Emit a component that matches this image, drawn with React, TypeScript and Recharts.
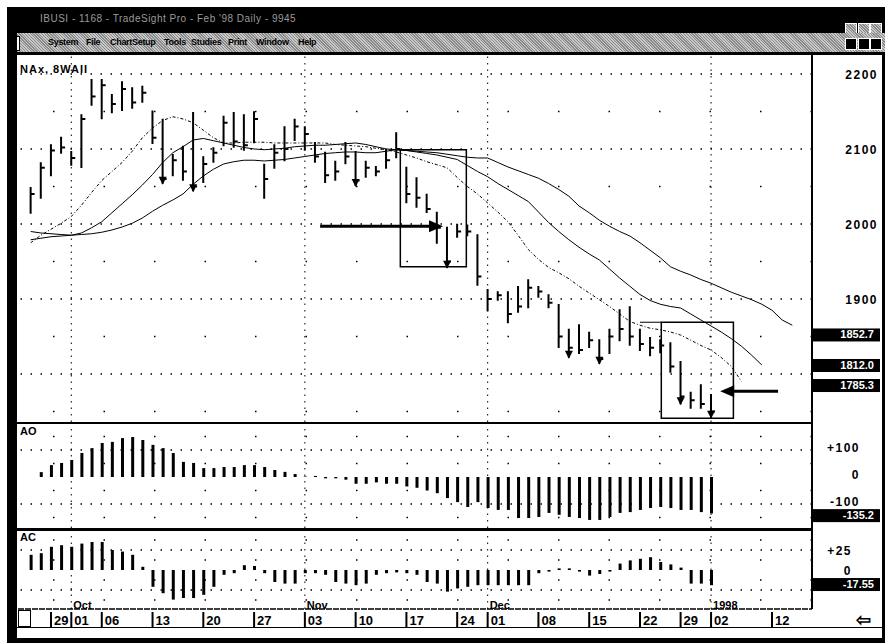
import React from 'react'
import {
  Bar,
  ComposedChart,
  Line,
  ReferenceArea,
  ReferenceDot,
  ReferenceLine,
  XAxis,
  YAxis,
} from 'recharts'

// trading days, Sep 25 1997 .. Jan 15 1998 (index = position on the x axis)
const dates = [
  '09-25', '09-26', '09-29', '09-30', '10-01', '10-02', '10-03', '10-06', '10-07', '10-08',
  '10-09', '10-10', '10-13', '10-14', '10-15', '10-16', '10-17', '10-20', '10-21', '10-22',
  '10-23', '10-24', '10-27', '10-28', '10-29', '10-30', '10-31', '11-03', '11-04', '11-05',
  '11-06', '11-07', '11-10', '11-11', '11-12', '11-13', '11-14', '11-17', '11-18', '11-19',
  '11-20', '11-21', '11-24', '11-25', '11-26', '12-01', '12-02', '12-03', '12-04', '12-05',
  '12-08', '12-09', '12-10', '12-11', '12-12', '12-15', '12-16', '12-17', '12-18', '12-19',
  '12-22', '12-23', '12-24', '12-26', '12-29', '12-30', '12-31', '01-02', '01-05', '01-06',
  '01-07', '01-08', '01-09', '01-12', '01-13', '01-14', '01-15',
]

const highs = [
  2048, 2081, 2105, 2115, 2096, 2145, 2192, 2192, 2172, 2189,
  2181, 2183, 2150, 2139, 2092, 2103, 2148, 2089, 2101, 2143,
  2148, 2145, 2149, 2079, 2105, 2129, 2139, 2129, 2108, 2095,
  2083, 2108, 2096, 2083, 2076, 2099, 2121, 2075, 2061, 2039,
  2015, 1995, 1999, 1998, 1985, 1912, 1909, 1909, 1916, 1925,
  1916, 1905, 1892, 1859, 1865, 1855, 1845, 1859, 1885, 1889,
  1859, 1848, 1845, 1841, 1816, 1775, 1785, 1772,
]
const lows = [
  2015, 2035, 2065, 2095, 2079, 2076, 2159, 2141, 2149, 2152,
  2155, 2163, 2108, 2055, 2065, 2059, 2045, 2056, 2083, 2105,
  2103, 2099, 2109, 2035, 2075, 2085, 2112, 2099, 2083, 2056,
  2059, 2081, 2052, 2063, 2065, 2075, 2089, 2029, 2023, 2016,
  1975, 1943, 1983, 1985, 1919, 1885, 1899, 1869, 1883, 1889,
  1903, 1889, 1836, 1823, 1828, 1836, 1815, 1828, 1845, 1839,
  1832, 1825, 1829, 1803, 1761, 1755, 1755, 1743,
]
const closes = [
  2040, 2075, 2098, 2102, 2088, 2140, 2170, 2185, 2160, 2180,
  2162, 2175, 2115, 2060, 2085, 2070, 2050, 2080, 2095, 2135,
  2110, 2105, 2140, 2060, 2095, 2100, 2130, 2120, 2090, 2065,
  2070, 2090, 2058, 2075, 2070, 2085, 2100, 2040, 2035, 2020,
  1995, 1950, 1990, 1990, 1930, 1900, 1905, 1880, 1890, 1915,
  1910, 1895, 1850, 1835, 1832, 1845, 1820, 1850, 1860, 1850,
  1840, 1835, 1838, 1810, 1770, 1765, 1760, 1750,
]

// alligator lines (shifted forward past the last bar)
const lips = [
  1975, 1985, 1993, 2001, 2010, 2025, 2042, 2058, 2070, 2082,
  2097, 2115, 2128, 2138, 2143, 2140, 2135, 2125, 2115, 2108,
  2108, 2109, 2109, 2109, 2108, 2108, 2108, 2108, 2108, 2108,
  2106, 2105, 2104, 2103, 2101, 2099, 2096, 2092, 2088, 2083,
  2079, 2075, 2062, 2050, 2040, 2028, 2016, 2003, 1985, 1966,
  1953, 1942, 1935, 1927, 1917, 1908, 1899, 1890, 1880, 1870,
  1865, 1861, 1859, 1856, 1852, 1845, 1838, 1832, 1822, 1810,
  1790,
]
const teeth = [
  1990, 1988, 1987, 1986, 1985, 1988, 1995, 2003, 2015, 2027,
  2039, 2052, 2066, 2082, 2095, 2103, 2112, 2114, 2111, 2108,
  2105, 2102, 2100, 2099, 2100, 2101, 2103, 2104, 2105, 2105,
  2106, 2107, 2108, 2106, 2103, 2100, 2099, 2098, 2096, 2094,
  2092, 2089, 2086, 2078, 2070, 2063, 2054, 2046, 2038, 2030,
  2016, 2002, 1990, 1979, 1969, 1960, 1952, 1940, 1928, 1917,
  1906, 1898, 1893, 1890, 1888, 1880, 1872, 1864, 1856, 1847,
  1837, 1825, 1812,
]
const jaw = [
  1979, 1981, 1983, 1984, 1985, 1986, 1987, 1989, 1992, 1996,
  2001, 2008, 2017, 2025, 2032, 2040, 2053, 2064, 2073, 2080,
  2083, 2085, 2085, 2084, 2085, 2086, 2088, 2090, 2092, 2094,
  2095, 2096, 2096, 2095, 2095, 2097, 2099, 2098, 2097, 2096,
  2095, 2093, 2091, 2089, 2088, 2088, 2082, 2076, 2071, 2066,
  2061, 2054, 2046, 2037, 2024, 2015, 2005, 1997, 1990, 1984,
  1975, 1965, 1955, 1943, 1937, 1932, 1926, 1921, 1915, 1909,
  1904, 1899, 1893, 1885, 1872, 1865,
]

const ao = [
  null, 18, 44, 52, 63, 89, 107, 126, 130, 144,
  148, 137, 119, 107, 89, 56, 52, 33, 33, 37,
  37, 44, 44, 37, 26, 19, 11, 2, 4, -5,
  -5, -10, -25, -25, -20, -25, -25, -35, -40, -50,
  -60, -78, -93, -111, -93, -115, -122, -122, -152, -152,
  -148, -133, -140, -148, -152, -159, -159, -148, -133, -130,
  -122, -115, -111, -115, -122, -122, -130, -135,
]
const ac = [
  19, 21, 29, 31, 29, 33, 35, 35, 25, 23,
  19, 4, -21, -29, -37, -35, -35, -31, -21, -6,
  -4, 6, 5, -4, -15, -17, -17, -4, -4, -6,
  -15, -17, -19, -17, -6, -4, -3, -4, -6, -15,
  -17, -27, -23, -21, -19, -19, -19, -19, -19, -19,
  -4, -2, 2, 2, -2, -7, -5, -2, 8, 12,
  14, 16, 10, 7, 3, -17, -17, -19,
]

const downSignals = ['10-14', '10-17', '11-10', '11-21', '12-11', '12-16', '12-29', '01-02']
const tickDates = [
  '09-29', '10-01', '10-06', '10-13', '10-20', '10-27', '11-03', '11-10', '11-17',
  '11-24', '12-01', '12-08', '12-15', '12-22', '12-29', '01-02', '01-12',
]
const monthStarts = ['10-01', '11-03', '12-01', '01-02']
const monthNames = ['Oct', 'Nov', 'Dec', '1998']
const priceTicks = [2200, 2100, 2000, 1900]
const priceGrid = [1750, 1800, 1850, 1900, 1950, 2000, 2050, 2100, 2150, 2200]
const lastValues = [1852.7, 1812.0, 1785.3]
const aoLast = -135.2
const acLast = -17.55

// hand-drawn annotations, in data units (x index, price)
const boxes = [
  { x1: 36.4, x2: 42.9, y1: 2099, y2: 1943 },
  { x1: 62.1, x2: 69.2, y1: 1869, y2: 1741 },
]
const arrowRight = { from: 28.5, to: 40.6, price: 1997 }
const arrowLeft = { from: 73.6, to: 67.9, price: 1777 }

const X_DOMAIN: [number, number] = [-1.25, 76.94]
const FONT = '"Liberation Sans", Arial, sans-serif'

const rows = dates.map((d, k) => ({
  k,
  date: d,
  range: highs[k] != null ? [lows[k], highs[k]] : null,
  high: highs[k] ?? null,
  low: lows[k] ?? null,
  close: closes[k] ?? null,
  lips: lips[k] ?? null,
  teeth: teeth[k] ?? null,
  jaw: jaw[k] ?? null,
  ao: ao[k] ?? null,
  ac: ac[k] ?? null,
}))

const kOf = (d: string) => dates.indexOf(d)

function PriceBar(props: any) {
  const { x, y, width, height, payload } = props
  if (payload?.high == null) return null
  const cx = x + width / 2
  const span = payload.high - payload.low || 1
  const yc = y + ((payload.high - payload.close) / span) * height
  return (
    <g>
      <line x1={cx} x2={cx} y1={y - 1} y2={y + height + 1} stroke="#000" strokeWidth={2} />
      <line x1={cx} x2={cx + 4} y1={yc} y2={yc} stroke="#000" strokeWidth={2} />
    </g>
  )
}

function DownHead({ cx, cy }: any) {
  return <polygon points={`${cx - 4},${cy - 6} ${cx + 4},${cy - 6} ${cx},${cy + 2}`} fill="#000" />
}

function Head({ cx, cy, dir }: any) {
  const b = cx - dir * 14
  return <polygon points={`${cx},${cy} ${b},${cy - 6} ${b},${cy + 6}`} fill="#000" />
}

function Tag({ cx, cy, text }: any) {
  return (
    <g>
      <rect x={cx + 1} y={cy - 6} width={68} height={13} fill="#000" />
      <text x={cx + 62} y={cy + 4} textAnchor="end" fill="#fff" fontSize={11} fontWeight="bold" fontFamily={FONT}>
        {text}
      </text>
    </g>
  )
}

function RightTick({ x, y, payload, labels, dx, dy = 5 }: any) {
  const t = labels ? labels[payload.value] : payload.value
  return (
    <text x={x + dx} y={y + dy} textAnchor="end" fontSize={12} fontWeight="bold" letterSpacing={1.5} fontFamily={FONT}>
      {t}
    </text>
  )
}

function DateTick({ x, y, payload }: any) {
  const d = dates[payload.value]
  const mi = monthStarts.indexOf(d)
  return (
    <g>
      <line x1={x} x2={x} y1={y + 1} y2={y + 16} stroke="#000" strokeWidth={2} />
      <text x={x + 3} y={y + 14} fontSize={13} fontWeight="bold" fontFamily={FONT}>
        {d.slice(3)}
      </text>
      {mi >= 0 && (
        <text x={x + 2} y={y - 2} fontSize={11} fontWeight="bold" fontFamily={FONT}>
          {monthNames[mi]}
        </text>
      )}
    </g>
  )
}

function MonthLines() {
  return monthStarts.map((d) => (
    <ReferenceLine key={d} x={kOf(d)} stroke="#000" strokeDasharray="1.5 5" />
  ))
}

function PricePane() {
  return (
    <ComposedChart width={862} height={367} data={rows} margin={{ top: 0, right: 0, bottom: 0, left: 0 }}>
      <XAxis dataKey="k" type="number" domain={X_DOMAIN} hide allowDataOverflow />
      <YAxis
        orientation="right"
        width={68}
        domain={[1736, 2225.3]}
        ticks={priceTicks}
        interval={0}
        allowDataOverflow
        axisLine={false}
        tickLine={false}
        tickSize={0}
        tick={<RightTick dx={64} />}
      />
      {priceGrid.map((p) => (
        <ReferenceLine
          key={p}
          y={p}
          stroke="#000"
          strokeWidth={1.5}
          strokeDasharray={p % 100 === 0 ? '1.5 8.5' : '1.5 49'}
        />
      ))}
      {MonthLines()}
      <Line dataKey="jaw" stroke="#000" strokeWidth={1} dot={false} isAnimationActive={false} />
      <Line dataKey="teeth" stroke="#000" strokeWidth={1} dot={false} isAnimationActive={false} />
      <Line dataKey="lips" stroke="#000" strokeWidth={1} strokeDasharray="3 2 1 2" dot={false} isAnimationActive={false} />
      <Bar dataKey="range" barSize={4} shape={<PriceBar />} isAnimationActive={false} />
      {downSignals.map((d) => (
        <ReferenceDot key={d} x={kOf(d)} y={lows[kOf(d)]} r={4} shape={<DownHead />} />
      ))}
      {boxes.map((b, i) => (
        <ReferenceArea key={i} x1={b.x1} x2={b.x2} y1={b.y1} y2={b.y2} fill="none" stroke="#000" strokeWidth={1.5} />
      ))}
      <ReferenceLine
        segment={[
          { x: 60, y: boxes[1].y1 },
          { x: boxes[1].x1, y: boxes[1].y1 },
        ]}
        stroke="#000"
        strokeWidth={1}
      />
      <ReferenceLine
        segment={[
          { x: arrowRight.from, y: arrowRight.price },
          { x: arrowRight.to - 1, y: arrowRight.price },
        ]}
        stroke="#000"
        strokeWidth={3}
      />
      <ReferenceDot x={arrowRight.to} y={arrowRight.price} r={5} shape={<Head dir={1} />} />
      <ReferenceLine
        segment={[
          { x: arrowLeft.from, y: arrowLeft.price },
          { x: arrowLeft.to + 1, y: arrowLeft.price },
        ]}
        stroke="#000"
        strokeWidth={3}
      />
      <ReferenceDot x={arrowLeft.to} y={arrowLeft.price} r={5} shape={<Head dir={-1} />} />
      {lastValues.map((v) => (
        <ReferenceDot key={v} x={X_DOMAIN[1]} y={v} r={4} ifOverflow="visible" shape={<Tag text={v.toFixed(1)} />} />
      ))}
    </ComposedChart>
  )
}

function AoPane() {
  return (
    <ComposedChart width={862} height={104} data={rows} margin={{ top: 0, right: 0, bottom: 0, left: 0 }}>
      <XAxis dataKey="k" type="number" domain={X_DOMAIN} hide allowDataOverflow />
      <YAxis
        orientation="right"
        width={68}
        domain={[-188.9, 196.3]}
        ticks={[100, 0, -100]}
        interval={0}
        allowDataOverflow
        axisLine={false}
        tickLine={false}
        tickSize={0}
        tick={<RightTick dx={46} dy={2} labels={{ 100: '+100', 0: '0', '-100': '-100' }} />}
      />
      {[150, 100, 50, -50, -100, -150].map((v) => (
        <ReferenceLine
          key={v}
          y={v}
          stroke="#000"
          strokeWidth={1.5}
          strokeDasharray={v % 100 === 0 ? '1.5 8.5' : '1.5 49'}
        />
      ))}
      {MonthLines()}
      <Bar dataKey="ao" fill="#000" barSize={3} isAnimationActive={false} />
      <ReferenceDot x={X_DOMAIN[1]} y={aoLast - 6} r={4} ifOverflow="visible" shape={<Tag text={String(aoLast)} />} />
    </ComposedChart>
  )
}

function AcPane() {
  return (
    <ComposedChart width={862} height={96} data={rows} margin={{ top: 0, right: 0, bottom: 0, left: 0 }}>
      <XAxis
        dataKey="k"
        type="number"
        domain={X_DOMAIN}
        allowDataOverflow
        height={18}
        ticks={tickDates.map(kOf)}
        interval={0}
        tickLine={false}
        tickSize={0}
        axisLine={{ stroke: '#000', strokeWidth: 1.5, strokeDasharray: '6 1' }}
        tick={<DateTick />}
      />
      <YAxis
        orientation="right"
        width={68}
        domain={[-48.75, 48.75]}
        ticks={[25, 0]}
        interval={0}
        allowDataOverflow
        axisLine={false}
        tickLine={false}
        tickSize={0}
        tick={<RightTick dx={38} labels={{ 25: '+25', 0: '0' }} />}
      />
      {[37.5, 25, 12.5, -12.5, -25, -37.5].map((v) => (
        <ReferenceLine
          key={v}
          y={v}
          stroke="#000"
          strokeWidth={1.5}
          strokeDasharray={v % 25 === 0 ? '1.5 8.5' : '1.5 49'}
        />
      ))}
      {MonthLines()}
      <Bar dataKey="ac" fill="#000" barSize={3} isAnimationActive={false} />
      <ReferenceDot x={X_DOMAIN[1]} y={acLast} r={4} ifOverflow="visible" shape={<Tag text={String(acLast)} />} />
    </ComposedChart>
  )
}

const abs = (l: number, t: number, w: number, h: number, extra: React.CSSProperties = {}): React.CSSProperties => ({
  position: 'absolute',
  left: l,
  top: t,
  width: w,
  height: h,
  ...extra,
})

const menuItems = [
  ['System', 48], ['File', 86], ['ChartSetup', 110], ['Tools', 164],
  ['Studies', 191], ['Print', 228], ['Window', 256], ['Help', 298],
] as const

export default function App() {
  const dither =
    'repeating-linear-gradient(45deg, #c8c8c8 0px, #c8c8c8 1px, #8a8a8a 1px, #8a8a8a 2px)'
  return (
    <div style={abs(0, 0, 885, 643, { position: 'fixed', background: '#fff', fontFamily: FONT, overflow: 'hidden' })}>
      {/* title bar */}
      <div style={abs(7, 7, 878, 26, { background: '#000' })} />
      <div style={abs(40, 13, 300, 14, { color: '#9a9a9a', fontSize: 10, letterSpacing: 0.5, whiteSpace: 'nowrap' })}>
        IBUSI - 1168 - TradeSight Pro - Feb '98 Daily - 9945
      </div>
      {[845, 858, 870].map((x) => (
        <div key={x} style={abs(x, 23, 10, 10, { background: dither, border: '1px solid #fff' })} />
      ))}
      {/* menu bar */}
      <div style={abs(7, 33, 878, 19, { background: dither })} />
      <div style={abs(10, 36, 8, 13, { background: '#fff', border: '1px solid #000' })} />
      {menuItems.map(([t, x]) => (
        <div
          key={t}
          style={abs(x, 37, 56, 12, { fontSize: 9, fontWeight: 'bold', color: '#000', whiteSpace: 'nowrap', letterSpacing: -0.3 })}
        >
          {t}
        </div>
      ))}
      {[845, 858, 870].map((x) => (
        <div key={x} style={abs(x, 38, 10, 10, { background: '#000', border: '1px solid #fff' })} />
      ))}
      <div style={abs(7, 52, 878, 3, { background: '#000' })} />
      {/* frame */}
      <div style={abs(7, 7, 10, 636, { background: '#000' })} />
      <div style={abs(882, 52, 3, 591, { background: '#000' })} />
      <div style={abs(7, 638, 878, 5, { background: '#000' })} />

      <div style={abs(18, 55, 862, 367)}>
        <PricePane />
      </div>
      <div style={abs(17, 422, 796, 2, { background: '#000' })} />
      <div style={abs(18, 424, 862, 104)}>
        <AoPane />
      </div>
      <div style={abs(17, 528, 796, 3, { background: '#000' })} />
      <div style={abs(18, 531, 862, 96)}>
        <AcPane />
      </div>
      <div style={abs(811, 55, 2, 554, { background: '#000' })} />
      <div style={abs(17, 627, 865, 1, { background: '#000' })} />
      <div style={abs(18, 610, 13, 17, { background: '#fff', border: '1px solid #000', boxSizing: 'border-box' })} />

      <div style={abs(20, 63, 120, 14, { fontSize: 11, fontWeight: 'bold', letterSpacing: 1 })}>NAx, 8WAII</div>
      <div style={abs(20, 425, 40, 14, { fontSize: 11, fontWeight: 'bold' })}>AO</div>
      <div style={abs(20, 531, 40, 14, { fontSize: 11, fontWeight: 'bold' })}>AC</div>
      <div style={abs(856, 609, 24, 20, { fontSize: 18, fontWeight: 'bold' })}>⇦</div>
    </div>
  )
}
